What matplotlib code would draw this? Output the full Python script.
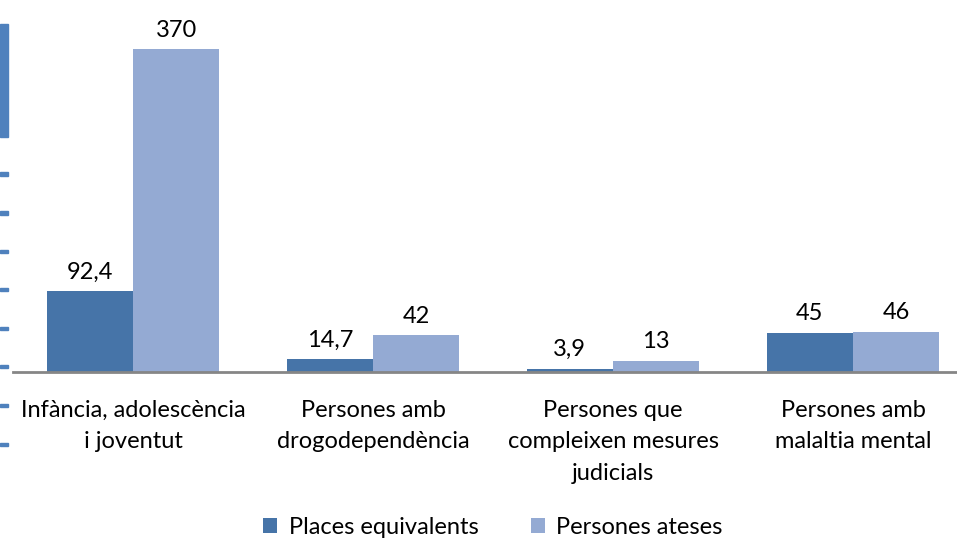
import matplotlib.pyplot as plt
import numpy as np
from matplotlib.patches import Rectangle

categories = ["Infància, adolescència\ni joventut",
              "Persones amb\ndrogodependència",
              "Persones que\ncompleixen mesures\njudicials",
              "Persones amb\nmalaltia mental"]
places = [92.4, 14.7, 3.9, 45]
ateses = [370, 42, 13, 46]
place_labels = ["92,4", "14,7", "3,9", "45"]
ateses_labels = ["370", "42", "13", "46"]

plt.rcParams['font.family'] = ['Lato', 'DejaVu Sans']
fs = 17

fig = plt.figure(figsize=(9.57, 5.42), dpi=100)
ax = fig.add_axes([13 / 957, 1 - 372 / 542, 960 / 957, 372 / 542])

x = np.arange(len(categories))
w = 0.36
b1 = ax.bar(x - w / 2, places, w, color="#4674A8", label="Places equivalents")
b2 = ax.bar(x + w / 2, ateses, w, color="#94AAD3", label="Persones ateses")

for bars, labs in ((b1, place_labels), (b2, ateses_labels)):
    for r, t in zip(bars, labs):
        ax.annotate(t, (r.get_x() + r.get_width() / 2, r.get_height()),
                    xytext=(0, 6), textcoords="offset points",
                    ha="center", va="bottom", fontsize=fs)

ax.set_xlim(-0.5, 3.5)
ax.set_ylim(0, 426)
ax.set_yticks([])
ax.set_xticks(x)
ax.set_xticklabels(categories, fontsize=fs, linespacing=1.62, va="top")
ax.tick_params(axis="x", length=0, pad=20)
for s in ("top", "right", "left"):
    ax.spines[s].set_visible(False)
ax.spines["bottom"].set_color("#868686")
ax.spines["bottom"].set_linewidth(2)

fig.legend(loc="center", bbox_to_anchor=(0.515, 1 - 527 / 542), ncol=2,
           frameon=False, fontsize=fs, handlelength=0.6, handleheight=0.6,
           columnspacing=2.2, handletextpad=0.5)

# fragments of a neighbouring element at the left edge
fig.patches.append(Rectangle((0, 1 - 137 / 542), 8 / 957, 113 / 542,
                             transform=fig.transFigure, color="#4F81BD"))
for yy in [174, 213, 251, 289, 328, 366, 405, 444]:
    fig.patches.append(Rectangle((0, 1 - (yy + 1.5) / 542), 8 / 957, 3 / 542,
                                 transform=fig.transFigure, color="#4F81BD"))

fig.savefig("out.png", dpi=100)
